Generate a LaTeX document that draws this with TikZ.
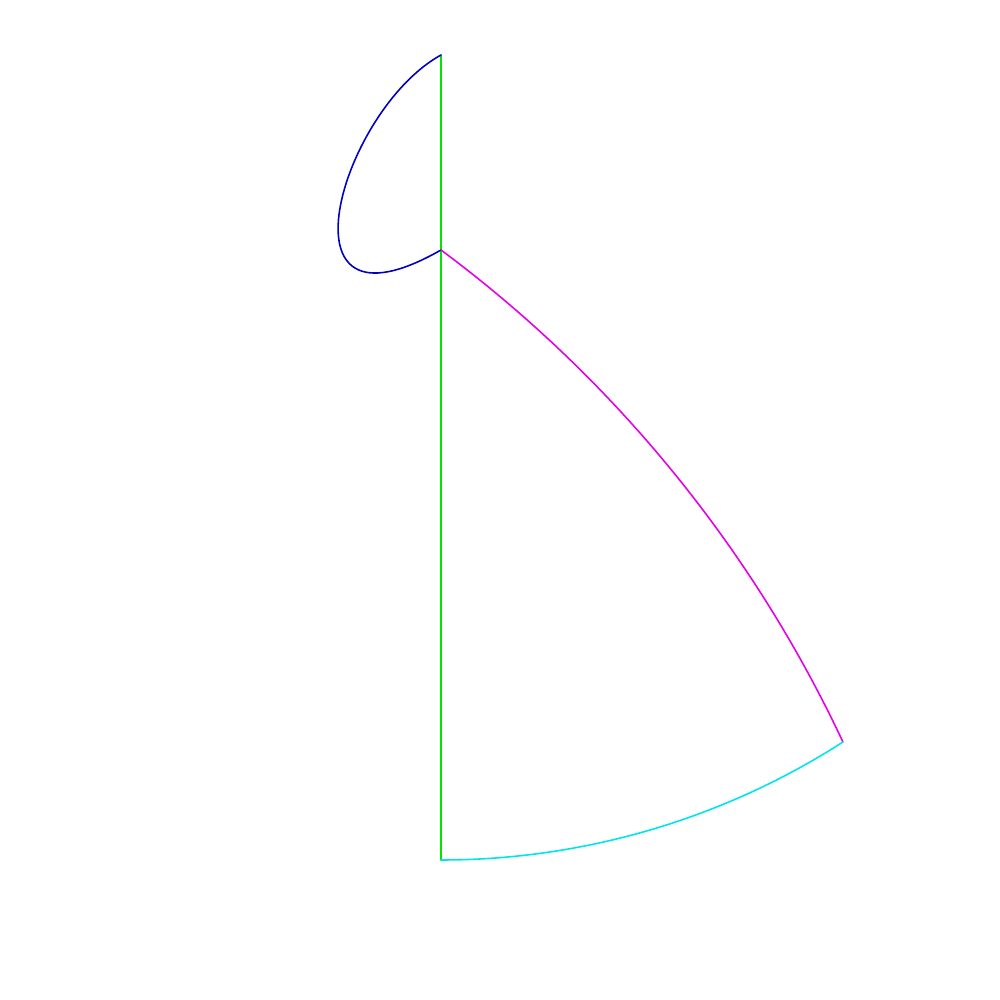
\documentclass[tikz,border=0pt]{standalone}
\begin{document}
\begin{tikzpicture}[x=0.01cm,y=0.01cm,line width=0.45pt,
  edge/.style={line cap=round,line join=round}]
\definecolor{cgreen}{RGB}{0,230,0}
\definecolor{cblue}{RGB}{0,0,190}
\definecolor{cmag}{RGB}{230,0,230}
\definecolor{ccyan}{RGB}{0,230,230}
\useasboundingbox (0,0) rectangle (1000,1000);
\coordinate (T) at (441,945);
\coordinate (A) at (441,750);
\coordinate (B) at (441,140);
\coordinate (C) at (843,258);
\draw[edge,cgreen] (T) -- (B);
\draw[edge,cblue] (T) .. controls (341,890) and (271,653) .. (A);
\draw[edge,cmag] (A) arc[start angle=53.35,end angle=25.15,radius=1303.6];
\draw[edge,ccyan] (B) arc[start angle=-90,end angle=-57.3,radius=744];
\end{tikzpicture}
\end{document}
